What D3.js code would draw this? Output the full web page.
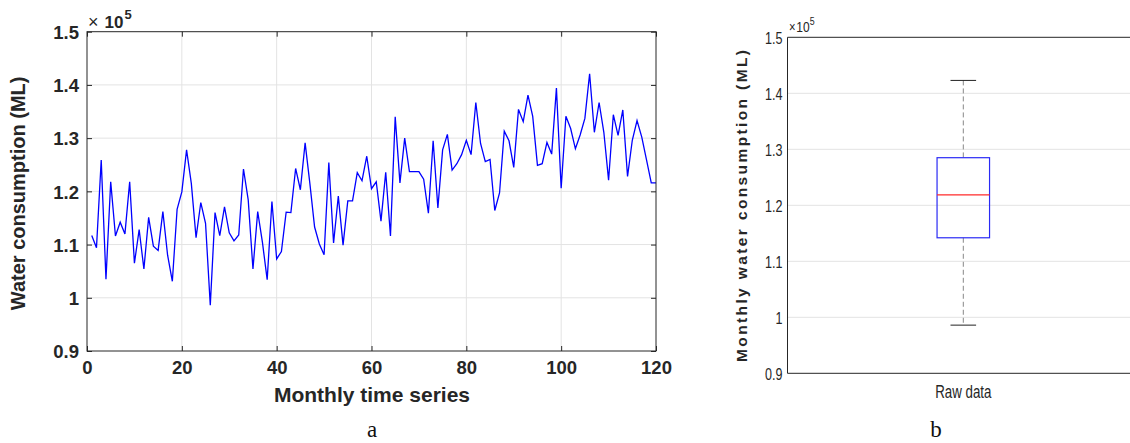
<!DOCTYPE html>
<html><head><meta charset="utf-8">
<script src="https://cdn.jsdelivr.net/npm/d3@7"></script>
<style>body{margin:0;background:#fff}svg{display:block}</style>
</head><body>
<script>
// ---- data ----
const months = d3.range(1, 121);
const consumption = [
1.117,1.094,1.259,1.035,1.218,1.116,1.142,1.120,1.218,1.065,
1.128,1.054,1.151,1.097,1.089,1.162,1.080,1.031,1.166,1.199,
1.278,1.215,1.113,1.179,1.140,0.986,1.160,1.117,1.171,1.122,
1.107,1.118,1.242,1.184,1.054,1.162,1.104,1.034,1.181,1.073,
1.087,1.161,1.160,1.243,1.203,1.291,1.215,1.133,1.101,1.081,
1.254,1.103,1.191,1.099,1.182,1.182,1.235,1.220,1.266,1.205,
1.218,1.144,1.236,1.116,1.340,1.216,1.300,1.237,1.237,1.237,
1.223,1.159,1.295,1.169,1.278,1.307,1.240,1.252,1.269,1.296,
1.269,1.367,1.290,1.256,1.260,1.164,1.197,1.313,1.295,1.245,
1.354,1.331,1.381,1.341,1.249,1.252,1.292,1.270,1.394,1.206,
1.341,1.318,1.280,1.306,1.337,1.421,1.311,1.367,1.311,1.221,
1.344,1.305,1.353,1.228,1.296,1.333,1.302,1.259,1.216,1.216
].map(v => v * 1e5);
const yTicks = [0.9, 1.0, 1.1, 1.2, 1.3, 1.4, 1.5];
const yTickLabels = ["0.9", "1", "1.1", "1.2", "1.3", "1.4", "1.5"];
const xTicks = [0, 20, 40, 60, 80, 100, 120];
const boxStats = {min: 0.986e5, q1: 1.142e5, median: 1.2185e5, q3: 1.285e5, max: 1.423e5};
const boxCategory = ["Raw data"];

const W = 1130, H = 443;
const svg = d3.select("body").append("svg").attr("width", W).attr("height", H);
const sans = "'Liberation Sans', Arial, sans-serif";
const NS = 0.74; // horizontal squeeze to mimic a narrow face

// ---------- Panel a ----------
const A = {l: 87, r: 656, t: 31.7, b: 351};
const xa = d3.scaleLinear().domain([0, 120]).range([A.l, A.r]);
const ya = d3.scaleLinear().domain([0.9e5, 1.5e5]).range([A.b, A.t]);
const ga = svg.append("g");

ga.selectAll("line.gx").data(xTicks.slice(1, -1)).join("line")
  .attr("x1", d => xa(d)).attr("x2", d => xa(d)).attr("y1", A.t).attr("y2", A.b)
  .attr("stroke", "#e3e3e3").attr("stroke-width", 1);
ga.selectAll("line.gy").data(yTicks.slice(1, -1)).join("line")
  .attr("x1", A.l).attr("x2", A.r).attr("y1", d => ya(d * 1e5)).attr("y2", d => ya(d * 1e5))
  .attr("stroke", "#e3e3e3").attr("stroke-width", 1);

ga.append("path").datum(months.map((m, i) => [m, consumption[i]]))
  .attr("fill", "none").attr("stroke", "#0000ff").attr("stroke-width", 1.3)
  .attr("d", d3.line().x(d => xa(d[0])).y(d => ya(d[1])));

ga.append("rect").attr("x", A.l).attr("y", A.t).attr("width", A.r - A.l).attr("height", A.b - A.t)
  .attr("fill", "none").attr("stroke", "#262626").attr("stroke-width", 1);

const axLeft = ga.append("g").attr("transform", `translate(${A.l},0)`)
  .call(d3.axisLeft(ya).tickValues(yTicks.map(v => v * 1e5)).tickSize(-5).tickPadding(8)
    .tickFormat((d, i) => yTickLabels[i]));
const axRight = ga.append("g").attr("transform", `translate(${A.r},0)`)
  .call(d3.axisRight(ya).tickValues(yTicks.map(v => v * 1e5)).tickSize(-5).tickFormat(""));
const axBottom = ga.append("g").attr("transform", `translate(0,${A.b})`)
  .call(d3.axisBottom(xa).tickValues(xTicks).tickSize(-5).tickPadding(9));
const axTop = ga.append("g").attr("transform", `translate(0,${A.t})`)
  .call(d3.axisTop(xa).tickValues(xTicks).tickSize(-5).tickFormat(""));
[axLeft, axRight, axBottom, axTop].forEach(g => {
  g.select(".domain").remove();
  g.selectAll(".tick line").attr("stroke", "#262626");
  g.selectAll("text").attr("font-family", sans).attr("font-weight", "bold")
    .attr("font-size", 18.5).attr("fill", "#262626");
});
axLeft.selectAll("text").attr("dy", "0.36em");
axBottom.selectAll("text").attr("dy", "0.74em");

const ea = svg.append("text").attr("x", 88).attr("y", 28).attr("font-family", sans).attr("fill", "#262626");
ea.append("tspan").text("\u00d7").attr("font-size", 18);
ea.append("tspan").text("10").attr("font-size", 17).attr("font-weight", "bold").attr("dx", 6);
ea.append("tspan").text("5").attr("font-size", 13).attr("font-weight", "bold").attr("dy", -9).attr("dx", 1);

svg.append("text").attr("transform", `translate(25,${(A.t + A.b) / 2 + 2}) rotate(-90)`)
  .attr("text-anchor", "middle").attr("font-family", sans).attr("font-weight", "bold")
  .attr("font-size", 20).attr("fill", "#262626").text("Water consumption (ML)");
svg.append("text").attr("x", 372).attr("y", 402)
  .attr("text-anchor", "middle").attr("font-family", sans).attr("font-weight", "bold")
  .attr("font-size", 21).attr("fill", "#262626").text("Monthly time series");
svg.append("text").attr("x", 372).attr("y", 437).attr("text-anchor", "middle")
  .attr("font-family", "'Liberation Serif', 'DejaVu Serif', serif").attr("font-size", 23)
  .attr("fill", "#111").text("a");

// ---------- Panel b ----------
const B = {l: 787.5, r: 1131, t: 37.3, b: 373.3};
const yb = d3.scaleLinear().domain([0.9e5, 1.5e5]).range([B.b, B.t]);
const gb = svg.append("g");

gb.selectAll("line.gy").data(yTicks.slice(1, -1)).join("line")
  .attr("x1", B.l).attr("x2", B.r).attr("y1", d => yb(d * 1e5)).attr("y2", d => yb(d * 1e5))
  .attr("stroke", "#e3e3e3").attr("stroke-width", 1);

gb.append("path").attr("d", `M${B.l},${B.t}H${B.r}M${B.l},${B.t}V${B.b}H${B.r}`)
  .attr("fill", "none").attr("stroke", "#262626").attr("stroke-width", 1);

const cx = 963.3, bw = 52.5, cw = 25.6;
gb.append("line").attr("x1", cx).attr("x2", cx).attr("y1", yb(boxStats.max)).attr("y2", yb(boxStats.q3))
  .attr("stroke", "#888").attr("stroke-dasharray", "5,3").attr("stroke-width", 1);
gb.append("line").attr("x1", cx).attr("x2", cx).attr("y1", yb(boxStats.q1)).attr("y2", yb(boxStats.min))
  .attr("stroke", "#888").attr("stroke-dasharray", "5,3").attr("stroke-width", 1);
[boxStats.max, boxStats.min].forEach(v => {
  gb.append("line").attr("x1", cx - cw / 2).attr("x2", cx + cw / 2).attr("y1", yb(v)).attr("y2", yb(v))
    .attr("stroke", "#222").attr("stroke-width", 1);
});
gb.append("rect").attr("x", cx - bw / 2).attr("y", yb(boxStats.q3)).attr("width", bw)
  .attr("height", yb(boxStats.q1) - yb(boxStats.q3)).attr("fill", "none")
  .attr("stroke", "#2a2af5").attr("stroke-width", 1.2);
gb.append("line").attr("x1", cx - bw / 2).attr("x2", cx + bw / 2)
  .attr("y1", yb(boxStats.median)).attr("y2", yb(boxStats.median))
  .attr("stroke", "#ff2a2a").attr("stroke-width", 1.2);

const bLeft = gb.append("g").attr("transform", `translate(${B.l},0)`)
  .call(d3.axisLeft(yb).tickValues(yTicks.map(v => v * 1e5)).tickSize(0).tickPadding(5)
    .tickFormat((d, i) => yTickLabels[i]));
bLeft.select(".domain").remove();
bLeft.selectAll("text").attr("font-family", sans).attr("font-size", 17).attr("fill", "#262626")
  .attr("dy", "0.36em").attr("x", -5 / NS).attr("transform", `scale(${NS},1)`);

svg.append("text").attr("transform", `translate(${cx},398) scale(0.72,1)`).attr("text-anchor", "middle")
  .attr("font-family", sans).attr("font-size", 18.5).attr("fill", "#262626").text(boxCategory[0]);

const eb = svg.append("text").attr("transform", `translate(789,32) scale(${NS + 0.06},1)`)
  .attr("font-family", sans).attr("fill", "#262626");
eb.append("tspan").text("\u00d7").attr("font-size", 14);
eb.append("tspan").text("10").attr("font-size", 15).attr("dx", 1);
eb.append("tspan").text("5").attr("font-size", 11).attr("dy", -7);

svg.append("text").attr("transform", `translate(747,206) rotate(-90)`)
  .attr("text-anchor", "middle").attr("font-family", sans).attr("font-weight", "bold")
  .attr("font-size", 15.5).attr("fill", "#262626")
  .attr("textLength", 312).attr("lengthAdjust", "spacing")
  .text("Monthly water consumption (ML)");

svg.append("text").attr("x", 936).attr("y", 437).attr("text-anchor", "middle")
  .attr("font-family", "'Liberation Serif', 'DejaVu Serif', serif").attr("font-size", 23)
  .attr("fill", "#111").text("b");
</script>
</body></html>
